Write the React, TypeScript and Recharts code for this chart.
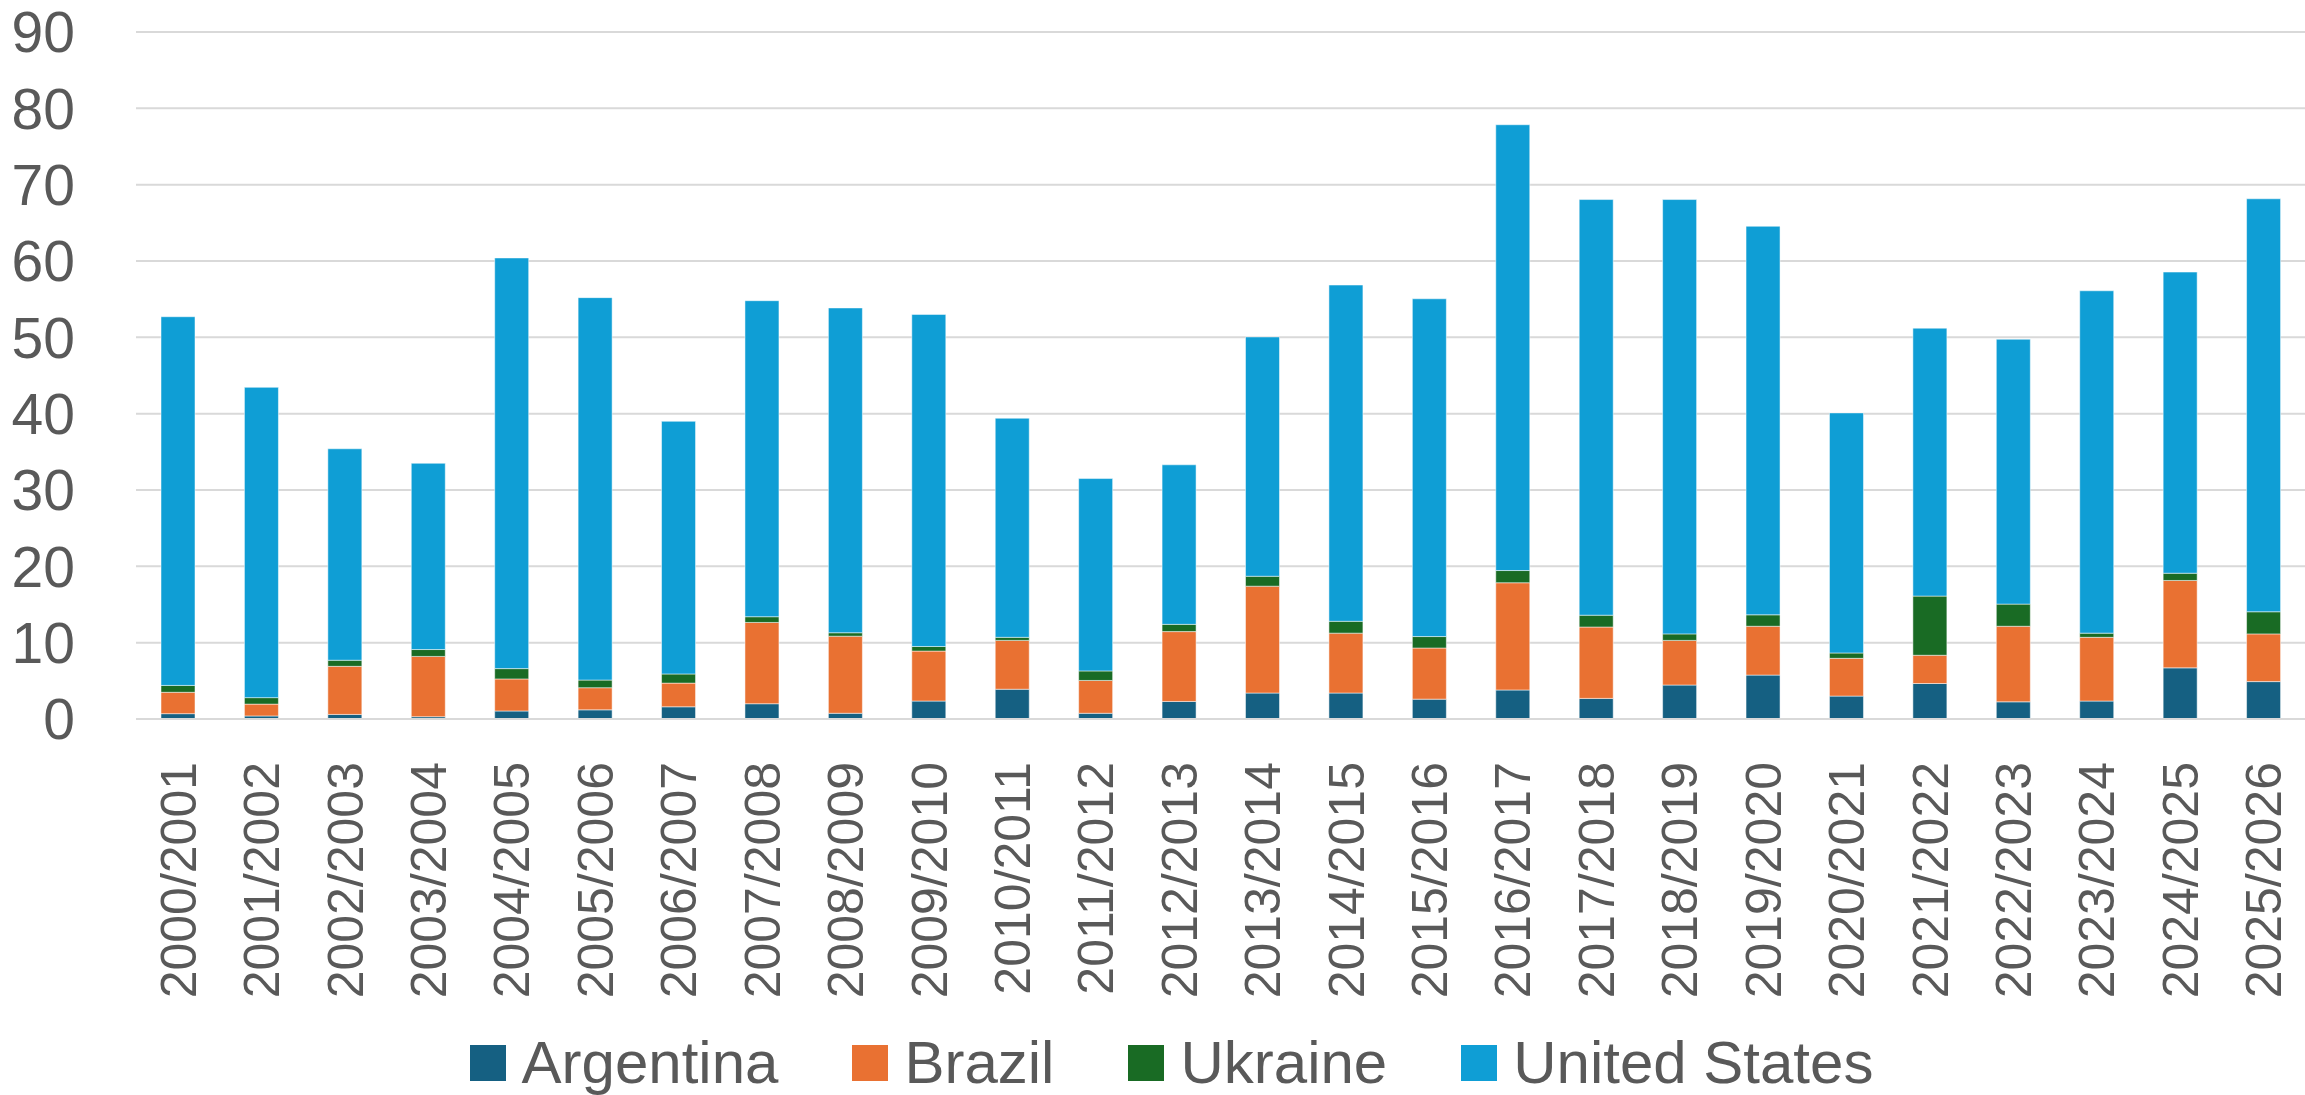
import React from 'react';
import { BarChart, Bar, XAxis, YAxis, CartesianGrid, Legend } from 'recharts';

const seasons = [
    '2000/2001', '2001/2002', '2002/2003', '2003/2004', '2004/2005', '2005/2006', '2006/2007',
    '2007/2008', '2008/2009', '2009/2010', '2010/2011', '2011/2012', '2012/2013', '2013/2014',
    '2014/2015', '2015/2016', '2016/2017', '2017/2018', '2018/2019', '2019/2020', '2020/2021',
    '2021/2022', '2022/2023', '2023/2024', '2024/2025', '2025/2026',
];

const argentina = [0.7, 0.4, 0.6, 0.3, 1.05, 1.2, 1.6, 2.0, 0.75, 2.35, 3.9, 0.75, 2.3, 3.4, 3.4, 2.6, 3.8, 2.7, 4.45, 5.75, 3.0, 4.65, 2.25, 2.35, 6.7, 4.9];
const brazil = [2.8, 1.55, 6.3, 7.9, 4.2, 2.9, 3.1, 10.65, 10.1, 6.55, 6.4, 4.3, 9.15, 14.0, 7.85, 6.7, 14.05, 9.35, 5.85, 6.4, 4.95, 3.7, 9.9, 8.35, 11.45, 6.25];
const ukraine = [0.9, 0.85, 0.8, 0.9, 1.35, 1.0, 1.2, 0.75, 0.45, 0.6, 0.4, 1.25, 0.95, 1.3, 1.55, 1.5, 1.6, 1.55, 0.85, 1.5, 0.7, 7.75, 2.9, 0.55, 0.95, 2.9];
const unitedStates = [48.3, 40.65, 27.7, 24.4, 53.8, 50.1, 33.1, 41.4, 42.55, 43.5, 28.7, 25.2, 20.9, 31.35, 44.05, 44.25, 58.4, 54.45, 56.9, 50.9, 31.45, 35.1, 34.7, 44.85, 39.45, 54.1];

const yTicks = [0, 10, 20, 30, 40, 50, 60, 70, 80, 90];

const series = [
    { key: 'argentina', name: 'Argentina', color: '#156082' },
    { key: 'brazil', name: 'Brazil', color: '#E97132' },
    { key: 'ukraine', name: 'Ukraine', color: '#196B24' },
    { key: 'unitedStates', name: 'United States', color: '#0F9ED5' },
];

const data = seasons.map((season, i) => ({
    season,
    argentina: argentina[i],
    brazil: brazil[i],
    ukraine: ukraine[i],
    unitedStates: unitedStates[i],
}));

const FONT = '"Liberation Sans", Arial, sans-serif';
const TEXT = '#595959';

function SeasonTick({ x, y, payload }: any) {
    return (
        <text
            x={x}
            y={y}
            dy="0.36em"
            transform={`rotate(-90, ${x}, ${y})`}
            textAnchor="end"
            fill={TEXT}
            fontSize={50}
            fontFamily={FONT}
        >
            {payload.value}
        </text>
    );
}

function ChartLegend() {
    return (
        <div
            style={{
                height: 76,
                display: 'flex',
                justifyContent: 'center',
                alignItems: 'center',
                paddingLeft: 38,
                paddingTop: 12,
                boxSizing: 'border-box',
                fontFamily: FONT,
                fontSize: 60,
                color: TEXT,
            }}
        >
            {series.map((s, i) => (
                <div key={s.key} style={{ display: 'flex', alignItems: 'center', marginLeft: i === 0 ? 0 : 74 }}>
                    <span style={{ width: 36, height: 36, background: s.color, display: 'inline-block', marginRight: 16 }} />
                    <span style={{ lineHeight: '60px' }}>{s.name}</span>
                </div>
            ))}
        </div>
    );
}

export default function App() {
    return (
        <div style={{ position: 'absolute', left: 0, top: 0, width: 2305, height: 1095, background: '#fff' }}>
            <BarChart width={2305} height={1095} data={data} margin={{ top: 32, right: 0, left: 0, bottom: 0 }}>
                <CartesianGrid vertical={false} stroke="#D9D9D9" strokeWidth={2} />
                <XAxis
                    dataKey="season"
                    height={300}
                    interval={0}
                    tickLine={false}
                    axisLine={{ stroke: '#D9D9D9', strokeWidth: 2 }}
                    tickMargin={37}
                    tick={<SeasonTick />}
                />
                <YAxis
                    width={136}
                    domain={[0, 90]}
                    ticks={yTicks}
                    interval={0}
                    axisLine={false}
                    tickLine={false}
                    tickMargin={55}
                    tick={{ fill: TEXT, fontSize: 57, fontFamily: FONT }}
                />
                <Legend verticalAlign="bottom" wrapperStyle={{ left: 0, width: 2305 }} content={<ChartLegend />} />
                {series.map((s) => (
                    <Bar
                        key={s.key}
                        dataKey={s.key}
                        name={s.name}
                        stackId="a"
                        fill={s.color}
                        barSize={34}
                        stroke="#ffffff"
                        strokeWidth={0.5}
                        isAnimationActive={false}
                    />
                ))}
            </BarChart>
        </div>
    );
}
